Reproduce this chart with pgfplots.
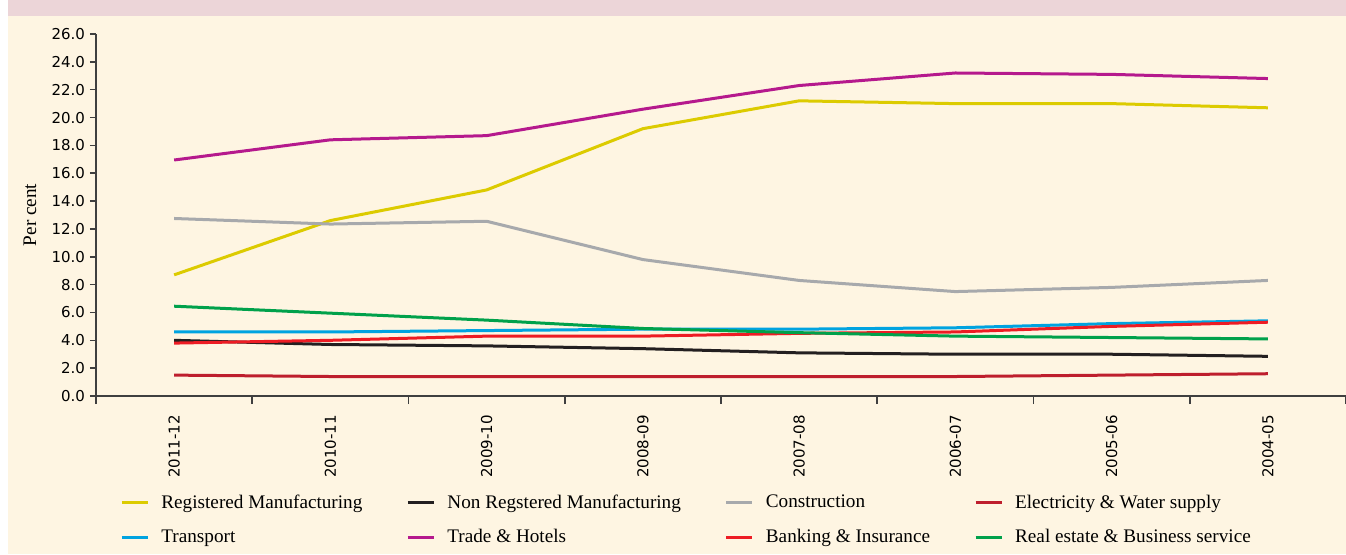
\documentclass[border=0pt]{standalone}
\usepackage{fontspec}
\setmainfont{Liberation Serif}
\newfontfamily\ticksfont{DejaVu Sans}
\usepackage{pgfplots}
\pgfplotsset{compat=1.18}
\definecolor{cream}{HTML}{FEF5E2}
\definecolor{band}{HTML}{ECD5D8}
\definecolor{axisgray}{HTML}{3F3F3F}
\definecolor{cRegMfg}{HTML}{DCCB00}
\definecolor{cNonReg}{HTML}{231F20}
\definecolor{cConstr}{HTML}{A7A9AC}
\definecolor{cElec}{HTML}{BE1E2D}
\definecolor{cTrans}{HTML}{00A3E0}
\definecolor{cTrade}{HTML}{B5198D}
\definecolor{cBank}{HTML}{ED1C24}
\definecolor{cReal}{HTML}{00A14B}

\begin{document}
\begin{tikzpicture}
    % page background: 1px = 0.5pt
    \useasboundingbox (0pt,0pt) rectangle (673pt,277pt);
    \fill[cream] (4pt,0pt) rectangle (673pt,269pt);
    \fill[band] (4pt,269pt) rectangle (673pt,277pt);
    \begin{axis}[
        at = {(48pt,79pt)},
        anchor = south west,
        scale only axis,
        width = 625pt,
        height = 181pt,
        xmin = -0.5, xmax = 7.5,
        ymin = 0, ymax = 26,
        axis lines = left,
        axis line style = {axisgray, line width = 0.8pt, -},
        xtick = {0,...,7},
        xticklabels = {2011-12, 2010-11, 2009-10, 2008-09, 2007-08, 2006-07, 2005-06, 2004-05},
        major x tick style = {draw = none},
        minor xtick = {-0.5,0.5,...,7.5},
        minor tick length = 4pt,
        minor x tick style = {axisgray, line width = 0.8pt},
        ytick = {0,2,...,26},
        major tick length = 3pt,
        y tick style = {axisgray, line width = 0.8pt},
        tick align = outside,
        x tick label style = {font = \ticksfont\fontsize{7.5}{9}\selectfont, rotate = 90, anchor = east, xshift = -3pt},
        y tick label style = {font = \ticksfont\fontsize{7.5}{9}\selectfont, /pgf/number format/fixed, /pgf/number format/fixed zerofill, /pgf/number format/precision = 1, xshift = 1pt},
        /pgf/number format/assume math mode = true,
        ylabel = {Per cent},
        ylabel style = {font = \fontsize{9.6}{11}\selectfont, at = {(axis description cs:-0.0528,0.5)}, anchor = center},
        every axis plot/.append style = {line width = 1.5pt, no markers},
        legend columns = 4,
        legend cell align = left,
        legend style = {
            at = {(axis description cs:0.0144,-0.255)},
            anchor = north west,
            draw = none, fill = none,
            font = \fontsize{9.6}{11.5}\selectfont,
            row sep = 7pt,
            nodes = {inner sep = 1pt},
            /tikz/every odd column/.append style = {column sep = 5pt},
            /tikz/every even column/.append style = {column sep = 21pt}
        },
        legend image code/.code = {\draw[#1, line width = 1.5pt] (0pt,0pt) -- (13pt,0pt);}
    ]
        \addplot[cRegMfg] coordinates {(0,8.7) (1,12.6) (2,14.8) (3,19.2) (4,21.2) (5,21.0) (6,21.0) (7,20.7)};
        \addlegendentry{Registered Manufacturing}
        \addplot[cNonReg] coordinates {(0,4.0) (1,3.7) (2,3.6) (3,3.4) (4,3.1) (5,3.0) (6,3.0) (7,2.85)};
        \addlegendentry{Non Regstered Manufacturing}
        \addplot[cConstr] coordinates {(0,12.75) (1,12.35) (2,12.55) (3,9.8) (4,8.3) (5,7.5) (6,7.8) (7,8.3)};
        \addlegendentry{Construction}
        \addplot[cElec] coordinates {(0,1.5) (1,1.4) (2,1.4) (3,1.4) (4,1.4) (5,1.4) (6,1.5) (7,1.6)};
        \addlegendentry{Electricity \& Water supply}
        \addplot[cTrans] coordinates {(0,4.6) (1,4.6) (2,4.7) (3,4.8) (4,4.8) (5,4.9) (6,5.2) (7,5.4)};
        \addlegendentry{Transport}
        \addplot[cTrade] coordinates {(0,16.95) (1,18.4) (2,18.7) (3,20.6) (4,22.3) (5,23.2) (6,23.1) (7,22.8)};
        \addlegendentry{Trade \& Hotels}
        \addplot[cBank] coordinates {(0,3.8) (1,4.0) (2,4.3) (3,4.3) (4,4.5) (5,4.6) (6,5.0) (7,5.3)};
        \addlegendentry{Banking \& Insurance}
        \addplot[cReal] coordinates {(0,6.45) (1,5.95) (2,5.45) (3,4.85) (4,4.55) (5,4.3) (6,4.2) (7,4.1)};
        \addlegendentry{Real estate \& Business service}
    \end{axis}
\end{tikzpicture}
\end{document}
